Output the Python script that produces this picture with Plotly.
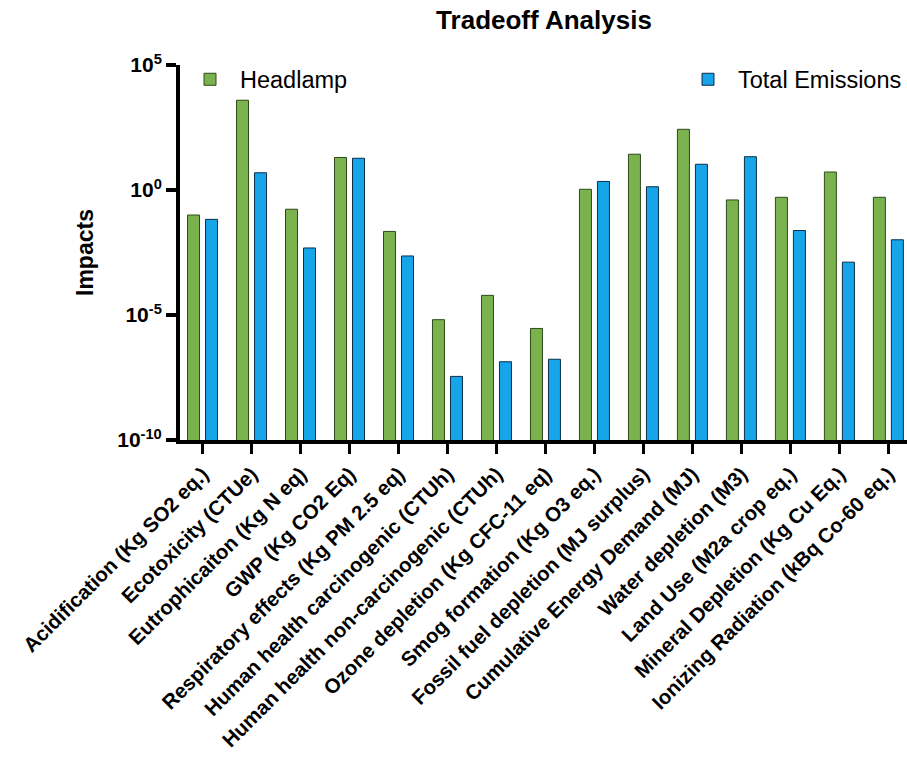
import plotly.graph_objects as go

categories = [
    "Acidification (Kg SO2 eq.)", "Ecotoxicity (CTUe)", "Eutrophicaiton (Kg N eq)",
    "GWP (Kg CO2 Eq)", "Respiratory effects (Kg PM 2.5 eq)", "Human health carcinogenic (CTUh)",
    "Human health non-carcinogenic (CTUh)", "Ozone depletion (Kg CFC-11 eq)",
    "Smog formation (Kg O3 eq.)", "Fossil fuel depletion (MJ surplus)",
    "Cumulative Energy Demand (MJ)", "Water depletion (M3)", "Land Use (M2a crop eq.)",
    "Mineral Depletion (Kg Cu Eq.)", "Ionizing Radiation (kBq Co-60 eq.)",
]
headlamp = [0.1, 3900, 0.17, 20, 0.022, 6.5e-6, 6.1e-5, 2.9e-6, 1.07, 27, 268, 0.4, 0.51, 5.25, 0.51]
total_emissions = [0.067, 4.9, 0.0048, 18.6, 0.0023, 3.5e-8, 1.35e-7, 1.7e-7, 2.2, 1.35, 10.7, 21.5, 0.024, 0.0013, 0.0102]
ytick_vals = [1e-10, 1e-5, 1e0, 1e5]
ytick_text = ["10<sup>-10</sup>", "10<sup>-5</sup>", "10<sup>0</sup>", "10<sup>5</sup>"]

FONT = "Liberation Sans, Arial, sans-serif"
idx = list(range(len(categories)))

fig = go.Figure()
fig.add_trace(go.Bar(x=idx, y=headlamp, name="Headlamp",
                     marker=dict(color="#7ab24e", line=dict(color="#2f4a1a", width=1)),
                     legend="legend"))
fig.add_trace(go.Bar(x=idx, y=total_emissions, name="Total Emissions",
                     marker=dict(color="#16a5e9", line=dict(color="#0b2f4a", width=1)),
                     legend="legend2"))

fig.update_layout(
    width=907, height=757,
    margin=dict(l=180, r=0, t=65, b=317),
    paper_bgcolor="white", plot_bgcolor="white",
    barmode="group", bargap=0.265, bargroupgap=1/3,
    font=dict(family=FONT, color="black"),
    title=dict(text="<b>Tradeoff Analysis</b>", x=544 / 907, xanchor="center",
               y=1 - 20 / 757, yanchor="middle", font=dict(size=26, family=FONT)),
    legend=dict(x=0.0, y=1.02, xanchor="left", yanchor="top", bgcolor="rgba(0,0,0,0)",
                itemwidth=50, font=dict(size=23.5, family=FONT)),
    legend2=dict(x=1.0, y=1.02, xanchor="right", yanchor="top", bgcolor="rgba(0,0,0,0)",
                 itemwidth=50, font=dict(size=23.5, family=FONT)),
    showlegend=True,
)
fig.update_xaxes(
    range=[-0.46, 14.38], tickmode="array", tickvals=idx,
    ticktext=["<b>" + c + "</b>" for c in categories],
    tickangle=-45, tickfont=dict(size=20.5, family=FONT), automargin=False,
    showline=True, linecolor="black", linewidth=4,
    ticks="outside", ticklen=10, tickwidth=3, tickcolor="black",
    showgrid=False, zeroline=False,
)
fig.update_yaxes(
    type="log", range=[-10, 5], tickmode="array", tickvals=ytick_vals,
    ticktext=["<b>" + t + "</b>" for t in ytick_text],
    tickfont=dict(size=21, family=FONT), automargin=False,
    showline=True, linecolor="black", linewidth=4,
    ticks="outside", ticklen=10, tickwidth=4, tickcolor="black",
    showgrid=False, zeroline=False,
    title=dict(text="<b>Impacts</b>", font=dict(size=23, family=FONT), standoff=18),
)
fig.write_html("out.html")
